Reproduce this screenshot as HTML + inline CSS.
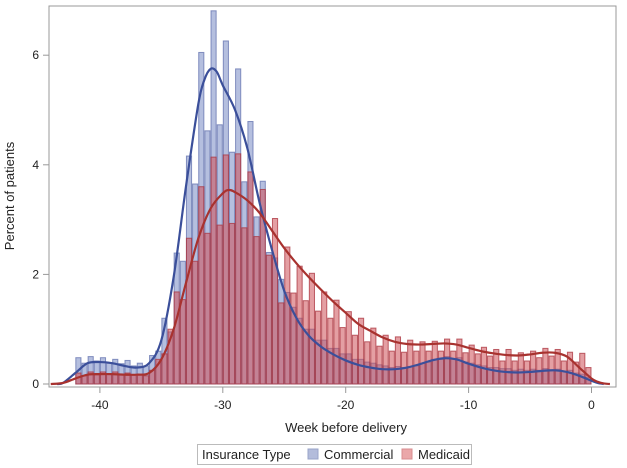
<!DOCTYPE html>
<html><head><meta charset="utf-8"><style>
html,body{margin:0;padding:0;background:#fff;}
svg{display:block;font-family:"Liberation Sans",Arial,sans-serif;}
</style></head><body>
<svg id="chart" width="627" height="468" viewBox="0 0 627 468">
<rect x="0" y="0" width="627" height="468" fill="#fff"/>
<g id="bars"></g>
<g id="curves"></g>
<rect x="49" y="6" width="567" height="381" fill="none" stroke="#999" stroke-width="1"/>
<g id="axes"></g>
<text x="346" y="432" font-size="13" text-anchor="middle" fill="#222">Week before delivery</text>
<text transform="translate(14,196) rotate(-90)" font-size="13" text-anchor="middle" fill="#222">Percent of patients</text>
<g>
<rect x="197.5" y="444.5" width="274" height="20" fill="#fff" stroke="#bbb"/>
<text x="202" y="459" font-size="13" fill="#222">Insurance Type</text>
<rect x="308" y="449" width="10" height="10" fill="#b3bcdb" stroke="#9aa4c8"/>
<text x="324" y="459" font-size="13" fill="#222">Commercial</text>
<rect x="402" y="449" width="10" height="10" fill="#eaa7a9" stroke="#d88d90"/>
<text x="418" y="459" font-size="13" fill="#222">Medicaid</text>
</g>
</svg>
<script>
const binStart = -42;
const binWidth = 0.5;
const commercial = [0.48,0.38,0.5,0.42,0.48,0.38,0.45,0.37,0.43,0.33,0.38,0.33,
0.52,0.6,1.2,0.95,2.39,2.24,4.16,3.65,
6.05,4.62,6.81,4.73,6.26,4.23,5.75,3.69,4.79,3.05,
3.7,2.4,2.3,1.91,1.67,1.4,1.2,1.0,1.0,0.8,
0.8,0.65,0.65,0.55,0.55,0.45,0.45,0.4,0.38,0.35,
0.33,0.3,0.32,0.3,0.32,0.33,0.38,0.4,0.45,0.45,
0.5,0.45,0.48,0.4,0.38,0.35,0.33,0.3,0.3,0.28,
0.28,0.25,0.27,0.25,0.27,0.25,0.28,0.25,0.27,0.23,
0.25,0.2,0.18,0.12];
const medicaid = [0.2,0.15,0.22,0.17,0.22,0.18,0.22,0.17,0.2,0.17,0.18,0.15,
0.25,0.45,0.55,1.0,1.68,1.54,2.66,2.24,
3.6,2.75,4.14,2.9,4.18,2.93,4.2,2.85,3.87,2.69,
3.55,2.35,3.02,1.48,2.5,1.66,2.15,1.52,2.02,1.33,
1.68,1.2,1.53,1.03,1.32,0.89,1.2,0.77,1.02,0.69,
0.89,0.6,0.86,0.58,0.8,0.6,0.77,0.6,0.78,0.6,
0.82,0.6,0.82,0.57,0.71,0.55,0.67,0.51,0.63,0.42,
0.63,0.42,0.57,0.42,0.6,0.48,0.65,0.51,0.63,0.42,
0.58,0.4,0.56,0.3];
const commercialCurveX = [-43.5,-43,-42,-41,-40,-39,-38,-37,-36,-35,-34,-33,-32,-31.5,-31,-30.5,-30,-29,-28,-27,-26,-25,-24,-23,-22,-21,-20,-19,-18,-17,-16,-15,-14,-13,-12,-11,-10,-9,-8,-7,-6,-5,-4,-3,-2,-1,0,0.5,1];
const commercialCurveY = [0,0.02,0.2,0.38,0.4,0.38,0.33,0.3,0.38,0.8,1.95,3.6,5.1,5.55,5.75,5.7,5.45,5.0,4.3,3.3,2.45,1.7,1.2,0.88,0.68,0.54,0.43,0.35,0.3,0.27,0.27,0.3,0.36,0.43,0.47,0.45,0.37,0.3,0.25,0.22,0.21,0.22,0.24,0.25,0.22,0.15,0.06,0.02,0];
const medicaidCurveX = [-44,-43,-42,-41,-40,-39,-38,-37,-36,-35,-34,-33,-32,-31,-30,-29.5,-29,-28,-27,-26,-25,-24,-23,-22,-21,-20,-19,-18,-17,-16,-15,-14,-13,-12,-11,-10,-9,-8,-7,-6,-5,-4,-3,-2,-1,0,0.5,1,1.5];
const medicaidCurveY = [0,0.02,0.1,0.17,0.18,0.18,0.17,0.17,0.2,0.45,1.0,1.84,2.65,3.2,3.48,3.54,3.5,3.35,3.12,2.8,2.48,2.2,1.95,1.72,1.5,1.3,1.1,0.97,0.85,0.77,0.73,0.72,0.73,0.74,0.72,0.66,0.6,0.56,0.53,0.52,0.54,0.57,0.57,0.5,0.3,0.1,0.04,0.01,0];
const xTicks = [-40,-30,-20,-10,0];
const yTicks = [0,2,4,6];

const NS = "http://www.w3.org/2000/svg";
const xs = v => 591.5 + v * 12.29;
const ys = v => 384 - v * 54.8;
function mk(tag, attrs, parent){const e=document.createElementNS(NS,tag);for(const k in attrs)e.setAttribute(k,attrs[k]);parent.appendChild(e);return e;}
const bars = document.getElementById('bars');
function drawBars(vals, fill, stroke, name){
  vals.forEach((v,i)=>{
    const x0 = xs(binStart + i*binWidth), x1 = xs(binStart + (i+1)*binWidth);
    const r = mk('rect',{x:x0+0.5,y:ys(v),width:x1-x0-1,height:ys(0)-ys(v),fill:fill,stroke:stroke,'stroke-width':1},bars);
    
    
  });
}
drawBars(commercial,'rgba(120,138,196,0.55)','rgba(90,105,170,0.7)','bar-commercial');
drawBars(medicaid,'rgba(205,80,88,0.55)','rgba(170,50,60,0.75)','bar-medicaid');

const curves = document.getElementById('curves');
function drawCurve(X,Y,color,name){
  const pts = X.map((x,i)=>[xs(x),ys(Y[i])]);
  let d = 'M'+pts[0][0]+','+pts[0][1];
  for(let i=0;i<pts.length-1;i++){
    const p0=pts[Math.max(0,i-1)],p1=pts[i],p2=pts[i+1],p3=pts[Math.min(pts.length-1,i+2)];
    const c1x=p1[0]+(p2[0]-p0[0])/6,c1y=p1[1]+(p2[1]-p0[1])/6;
    const c2x=p2[0]-(p3[0]-p1[0])/6,c2y=p2[1]-(p3[1]-p1[1])/6;
    d+=' C'+c1x+','+c1y+' '+c2x+','+c2y+' '+p2[0]+','+p2[1];
  }
  const p = mk('path',{d:d,fill:'none',stroke:color,'stroke-width':2.2},curves);
  
  
}
drawCurve(commercialCurveX,commercialCurveY,'#3b4f9a','density-commercial');
drawCurve(medicaidCurveX,medicaidCurveY,'#a8322f','density-medicaid');

const axes = document.getElementById('axes');
xTicks.forEach(t=>{
  const l = mk('line',{x1:xs(t),x2:xs(t),y1:387,y2:393,stroke:'#999'},axes);
  
  
  const tx = mk('text',{x:xs(t),y:409,'font-size':12,'text-anchor':'middle',fill:'#222'},axes);
  tx.textContent = String(t);
  
  
});
yTicks.forEach(t=>{
  const l = mk('line',{x1:43,x2:49,y1:ys(t),y2:ys(t),stroke:'#999'},axes);
  
  
  const tx = mk('text',{x:39,y:ys(t)+4,'font-size':12,'text-anchor':'end',fill:'#222'},axes);
  tx.textContent = String(t);
  
  
});
</script>
</body></html>
